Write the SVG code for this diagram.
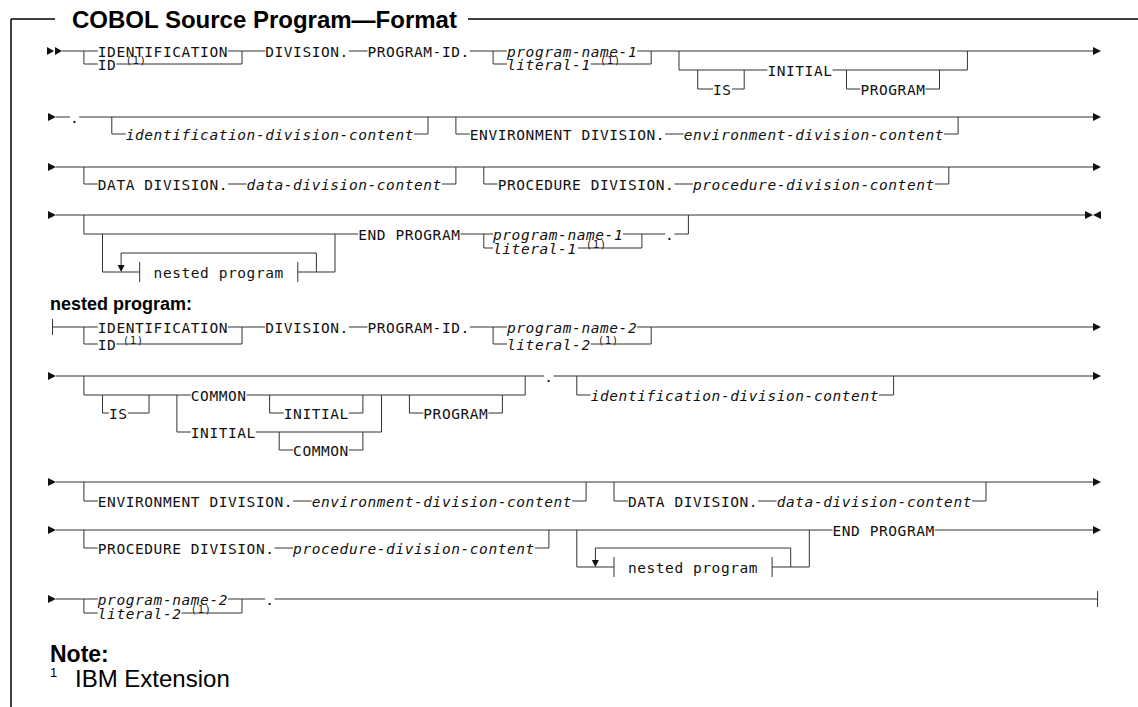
<svg xmlns="http://www.w3.org/2000/svg" width="1138" height="707" viewBox="0 0 1138 707">
  <style>
    .ln { stroke: #333; stroke-width: 1; fill: none; }
    .fr { stroke: #000; stroke-width: 1.5; fill: none; }
    .t { font-family: "DejaVu Sans Mono", "Liberation Mono", monospace; font-size: 14.5px; letter-spacing: 0.57px; fill: #111; }
    .i { font-style: italic; }
    .sup { font-family: "DejaVu Sans Mono", "Liberation Mono", monospace; font-size: 10px; letter-spacing: 1px; fill: #111; }
    .ah { fill: #111; }
    .hd { font-family: "Liberation Sans", Arial, sans-serif; font-weight: bold; fill: #000; }
    .nt { font-family: "Liberation Sans", Arial, sans-serif; fill: #000; }
  </style>

  <!-- frame and title -->
  <g id="frame">
    <path class="fr" d="M11 19 H55 M468 19 H1138 M11 19 V707"/>
    <text class="hd" x="72" y="27.5" font-size="24">COBOL Source Program—Format</text>
  </g>

  <g id="connectors">
    <!-- row 1 -->
    <path class="ln" d="M62 51 H97.8 M228 51 H265.2 M348.9 51 H367.5 M469.8 51 H507 M637.2 51 H1093
      M83.9 51 V64 H97.8 M116.4 64 H242 V51
      M493.1 51 V64 H507 M590.7 64 H651.2 V51
      M679 51 V70 H767.4 M832.5 70 H967.4 V51
      M697.7 70 V89 H713 M732 89 H744.2 V70
      M846.5 70 V89 H860.4 M925.5 89 H939.5 V70"/>
    <polygon class="ah" points="47,47 47,55 54,51"/>
    <polygon class="ah" points="55,47 55,55 62,51"/>
    <polygon class="ah" points="1093,47 1093,55 1101,51"/>

    <!-- row 2 -->
    <path class="ln" d="M56 117 H69.9 M79.2 117 H1093
      M111.8 117 V134 H125.7 M414 134 H428 V117
      M455.9 117 V134 H469.8 M665.1 134 H683.7 M944.1 134 H958.1 V117"/>
    <polygon class="ah" points="48,113 48,121 56,117"/>
    <polygon class="ah" points="1093,113 1093,121 1101,117"/>

    <!-- row 3 -->
    <path class="ln" d="M56 167 H1093
      M83.9 167 V184 H97.8 M228 184 H246.6 M441.9 184 H455.9 V167
      M483.8 167 V184 H497.7 M674.4 184 H693 M934.8 184 H948.8 V167"/>
    <polygon class="ah" points="48,163 48,171 56,167"/>
    <polygon class="ah" points="1093,163 1093,171 1101,167"/>

    <!-- row 4 -->
    <path class="ln" d="M56 215 H1085
      M83.9 215 V234 H358.2
      M102.5 234 V272 H139.7 M297.8 272 H335 V234
      M121.1 266 V253 H316.4 V272
      M139.7 262 V282 M297.8 262 V282
      M460.5 234 H493 M483.8 234 V248 H493 M578 248 H641.9 V234
      M623 234 H665.1 M674.4 234 H688.4 V215"/>
    <polygon class="ah" points="117.6,265 124.6,265 121.1,272"/>
    <polygon class="ah" points="48,211 48,219 56,215"/>
    <polygon class="ah" points="1085,211 1085,219 1093,215"/>
    <polygon class="ah" points="1101,211 1101,219 1093,215"/>

    <!-- nested row 1 -->
    <path class="ln" d="M52.5 319 V335 M52.5 327 H97.8 M228 327 H265.2 M348.9 327 H367.5 M469.8 327 H507 M637.2 327 H1093
      M83.9 327 V344 H97.8 M116.4 344 H242 V327
      M493.1 327 V344 H507 M590.7 344 H651.2 V327"/>
    <polygon class="ah" points="1093,323 1093,331 1101,327"/>

    <!-- nested row 2 -->
    <path class="ln" d="M56 376 H544.2 M553.5 376 H1093
      M83.9 376 V395 H190.8 M246.6 395 H525.2 V376
      M102.5 395 V413 H109 M128 413 H149 V395
      M176.9 395 V432 H190.8 M255.9 432 H381.5 V395
      M269.6 395 V413 H283.8 M348.9 413 H362.9 V395
      M279.2 432 V450 H293.1 M348.9 450 H362.9 V432
      M409.4 395 V413 H423.3 M488.4 413 H502.4 V395
      M576.8 376 V395 H590.7 M879 395 H893.6 V376"/>
    <polygon class="ah" points="48,372 48,380 56,376"/>
    <polygon class="ah" points="1093,372 1093,380 1101,376"/>

    <!-- nested row 3 -->
    <path class="ln" d="M56 482 H1093
      M83.9 482 V501 H97.8 M293.1 501 H311.7 M572.1 501 H586.1 V482
      M614 482 V501 H627.9 M758.1 501 H776.7 M972 501 H986 V482"/>
    <polygon class="ah" points="48,478 48,486 56,482"/>
    <polygon class="ah" points="1093,478 1093,486 1101,482"/>

    <!-- nested row 4 -->
    <path class="ln" d="M56 530 H832.5 M934.8 530 H1093
      M83.9 530 V548 H97.8 M274.5 548 H293.1 M534.9 548 H548.9 V530
      M576.8 530 V567 H614 M772.1 567 H809.3 V530
      M614 557 V577 M772.1 557 V577
      M595.4 560 V548 H790.7 V567"/>
    <polygon class="ah" points="591.9,560 598.9,560 595.4,567"/>
    <polygon class="ah" points="48,526 48,534 56,530"/>
    <polygon class="ah" points="1093,526 1093,534 1101,530"/>

    <!-- nested row 5 -->
    <path class="ln" d="M56 599 H97.8 M228 599 H265.2 M274.5 599 H1097.6
      M83.9 599 V613 H97.8 M181.5 613 H242 V599
      M1097.6 591 V607"/>
    <polygon class="ah" points="48,595 48,603 56,599"/>
  </g>

  <!-- main program syntax -->
  <g id="program-header">
    <text class="t" x="97.8" y="56.5">IDENTIFICATION</text>
    <text class="t" x="97.8" y="69.5">ID</text>
    <text class="sup" x="125.7" y="64">(1)</text>
    <text class="t" x="265.2" y="56.5">DIVISION.</text>
    <text class="t" x="367.5" y="56.5">PROGRAM-ID.</text>
    <text class="t i" x="507" y="56.5">program-name-1</text>
    <text class="t i" x="507" y="69.5">literal-1</text>
    <text class="sup" x="600" y="64">(1)</text>
    <text class="t" x="767.4" y="75.5">INITIAL</text>
    <text class="t" x="713" y="94.5">IS</text>
    <text class="t" x="860.4" y="94.5">PROGRAM</text>
  </g>

  <g id="program-divisions">
    <text class="t" x="69.9" y="122.5">.</text>
    <text class="t i" x="125.7" y="139.5">identification-division-content</text>
    <text class="t" x="469.8" y="139.5">ENVIRONMENT DIVISION.</text>
    <text class="t i" x="683.7" y="139.5">environment-division-content</text>
    <text class="t" x="97.8" y="189.5">DATA DIVISION.</text>
    <text class="t i" x="246.6" y="189.5">data-division-content</text>
    <text class="t" x="497.7" y="189.5">PROCEDURE DIVISION.</text>
    <text class="t i" x="693" y="189.5">procedure-division-content</text>
  </g>

  <g id="program-end">
    <text class="t" x="153.6" y="277.5">nested program</text>
    <text class="t" x="358.2" y="239.5">END PROGRAM</text>
    <text class="t i" x="493" y="239.5">program-name-1</text>
    <text class="t i" x="493" y="253.5">literal-1</text>
    <text class="sup" x="586" y="248">(1)</text>
    <text class="t" x="665.1" y="239.5">.</text>
  </g>

  <!-- nested program syntax -->
  <g id="nested-header">
    <text class="hd" x="50" y="310" font-size="18">nested program:</text>
    <text class="t" x="97.8" y="332.5">IDENTIFICATION</text>
    <text class="t" x="97.8" y="349.5">ID</text>
    <text class="sup" x="123" y="344">(1)</text>
    <text class="t" x="265.2" y="332.5">DIVISION.</text>
    <text class="t" x="367.5" y="332.5">PROGRAM-ID.</text>
    <text class="t i" x="507" y="332.5">program-name-2</text>
    <text class="t i" x="507" y="349.5">literal-2</text>
    <text class="sup" x="598" y="344">(1)</text>
  </g>

  <g id="nested-options">
    <text class="t" x="109" y="418.5">IS</text>
    <text class="t" x="190.8" y="400.5">COMMON</text>
    <text class="t" x="283.8" y="418.5">INITIAL</text>
    <text class="t" x="190.8" y="437.5">INITIAL</text>
    <text class="t" x="293.1" y="455.5">COMMON</text>
    <text class="t" x="423.3" y="418.5">PROGRAM</text>
    <text class="t" x="544.2" y="381.5">.</text>
    <text class="t i" x="590.7" y="400.5">identification-division-content</text>
  </g>

  <g id="nested-divisions">
    <text class="t" x="97.8" y="506.5">ENVIRONMENT DIVISION.</text>
    <text class="t i" x="311.7" y="506.5">environment-division-content</text>
    <text class="t" x="627.9" y="506.5">DATA DIVISION.</text>
    <text class="t i" x="776.7" y="506.5">data-division-content</text>
    <text class="t" x="97.8" y="553.5">PROCEDURE DIVISION.</text>
    <text class="t i" x="293.1" y="553.5">procedure-division-content</text>
    <text class="t" x="627.9" y="572.5">nested program</text>
    <text class="t" x="832.5" y="535.5">END PROGRAM</text>
  </g>

  <g id="nested-end">
    <text class="t i" x="97.8" y="604.5">program-name-2</text>
    <text class="t i" x="97.8" y="618.5">literal-2</text>
    <text class="sup" x="190.8" y="613">(1)</text>
    <text class="t" x="265.2" y="604.5">.</text>
  </g>

  <!-- footnote -->
  <g id="note">
    <text class="hd" x="50" y="662" font-size="23">Note:</text>
    <text class="nt" x="50" y="677" font-size="13">1</text>
    <text class="nt" x="75" y="687" font-size="24">IBM Extension</text>
  </g>
</svg>
